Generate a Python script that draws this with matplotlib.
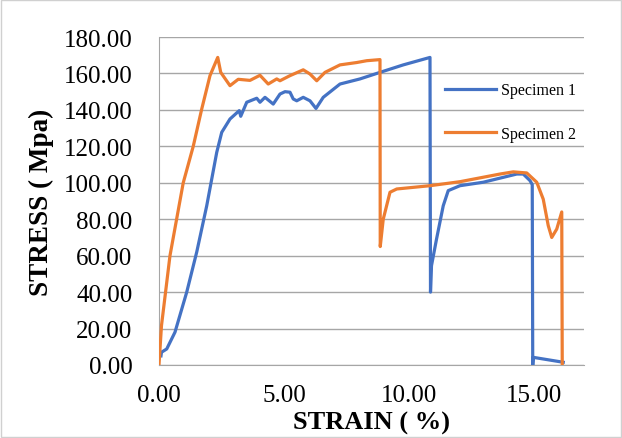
import matplotlib
matplotlib.use('Agg')
import matplotlib.pyplot as plt
from matplotlib.patches import Rectangle
from matplotlib.ticker import FormatStrFormatter

# Datos (deformacion %, esfuerzo MPa)
strain_1 = [0.08, 0.1, 0.31, 0.64, 1.11, 1.51, 1.91, 2.31, 2.51, 2.84, 3.21, 3.27, 3.51, 3.91,
            4.04, 4.24, 4.57, 4.84, 5.04, 5.24, 5.37, 5.51, 5.77, 6.04, 6.28, 6.57, 7.24, 8.04,
            8.84, 9.77, 10.84, 10.86, 10.9, 11.1, 11.37, 11.57, 12.04, 12.97, 14.31, 14.57,
            14.84, 14.93, 14.95, 14.97, 16.17]
stress_1 = [5.0, 7.0, 8.8, 18.0, 40.0, 62.0, 87.4, 116.7, 127.7, 135.0, 139.6, 136.5, 144.2, 146.4,
            144.2, 146.9, 143.2, 148.7, 150.0, 149.7, 146.0, 145.0, 146.9, 145.0, 140.8, 146.9, 154.2, 157.0,
            160.6, 164.7, 168.8, 40.0, 54.5, 69.0, 87.4, 95.7, 98.4, 100.3, 104.8, 104.8,
            101.2, 99.0, 0.0, 4.2, 1.5]

strain_2 = [0.0, 0.1, 0.44, 0.97, 1.37, 1.71, 2.04, 2.35, 2.47, 2.84, 3.17, 3.64, 4.04, 4.37,
            4.71, 4.84, 5.24, 5.77, 6.04, 6.31, 6.64, 7.24, 7.91, 8.31, 8.84, 8.85, 8.97, 9.24,
            9.51, 10.84, 12.04, 13.64, 14.17, 14.71, 15.11, 15.37, 15.57, 15.71, 15.91, 16.11, 16.13]
stress_2 = [0.0, 21.6, 60.0, 100.0, 120.0, 140.5, 158.8, 168.8, 160.6, 153.3, 156.8, 156.2, 159.0, 154.2,
            157.0, 156.0, 158.8, 162.0, 159.7, 156.0, 160.6, 164.7, 166.0, 167.0, 167.6, 65.0, 80.0, 94.8,
            96.6, 98.4, 100.6, 104.8, 106.0, 105.4, 100.3, 91.0, 76.5, 70.0, 74.6, 84.0, 0.0]

y_ticks = [0, 20, 40, 60, 80, 100, 120, 140, 160, 180]
x_ticks = [0, 5, 10, 15]

plt.rcParams['font.family'] = ['Liberation Serif', 'DejaVu Serif']

fig = plt.figure(figsize=(6.22, 4.39), dpi=100)
ax = fig.add_axes([0.2556, 0.1663, 0.6833, 0.7471])

# Borde exterior del grafico
fig.patches.append(Rectangle((0.0015, 0.002), 0.997, 0.996, transform=fig.transFigure,
                             fill=False, edgecolor='#d0d0d0', linewidth=1))

ax.plot(strain_1, stress_1, color='#4472C4', linewidth=2.3, label='Specimen 1', zorder=3)
ax.plot(strain_2, stress_2, color='#ED7D31', linewidth=2.3, label='Specimen 2', zorder=3)

ax.set_xlim(0, 17)
ax.set_ylim(0, 180)
ax.set_xticks(x_ticks)
ax.set_yticks(y_ticks)
ax.xaxis.set_major_formatter(FormatStrFormatter('%.2f'))
ax.yaxis.set_major_formatter(FormatStrFormatter('%.2f'))
ax.tick_params(length=0, labelsize=18)
ax.tick_params(axis='x', pad=14)
ax.tick_params(axis='y', pad=19)

ax.grid(axis='y', color='#a6a6a6', linewidth=1)
ax.set_axisbelow(True)
for s in ['top', 'right']:
    ax.spines[s].set_visible(False)
for s in ['left', 'bottom']:
    ax.spines[s].set_color('#a6a6a6')

ax.set_xlabel('STRAIN ( %)', fontsize=19, fontweight='bold', labelpad=3)
ax.set_ylabel('STRESS ( Mpa)', fontsize=19.5, fontweight='bold')
ax.yaxis.set_label_coords(-0.247, 0.5)

ax.legend(loc='upper left', bbox_to_anchor=(0.716, 0.81), bbox_transform=fig.transFigure,
          frameon=False, fontsize=11.5, handlelength=3.2, handletextpad=0.3,
          labelspacing=1.7, borderpad=0, borderaxespad=0)

plt.savefig('out.png', dpi=100)
